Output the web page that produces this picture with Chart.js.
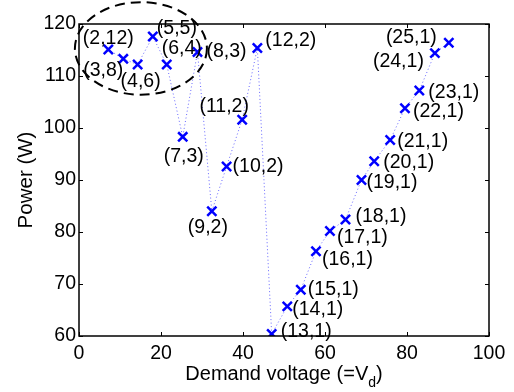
<!DOCTYPE html>
<html>
<head>
<meta charset="utf-8">
<script src="https://cdn.jsdelivr.net/npm/chart.js@4.4.1/dist/chart.umd.min.js"></script>
<style>
  html, body { margin: 0; padding: 0; background: #fff; }
  #c { display: block; }
</style>
</head>
<body>
<canvas id="c" width="514" height="392"></canvas>
<script>
// ---- data ----
const pointLabels = ["(2,12)","(3,8)","(4,6)","(5,5)","(6,4)","(7,3)","(8,3)","(9,2)","(10,2)","(11,2)","(12,2)",
  "(13,1)","(14,1)","(15,1)","(16,1)","(17,1)","(18,1)","(19,1)","(20,1)","(21,1)","(22,1)","(23,1)","(24,1)","(25,1)"];
const demandVoltage = [7.15, 10.8, 14.3, 18.0, 21.4, 25.3, 28.9, 32.4, 36.0, 39.8, 43.5,
  47.0, 50.8, 54.1, 57.8, 61.2, 65.0, 68.9, 72.0, 75.9, 79.5, 83.0, 86.8, 90.2];
const powerW = [115.1, 113.3, 112.2, 117.6, 112.2, 98.3, 114.6, 84.0, 92.6, 101.6, 115.4,
  60.4, 65.7, 68.9, 76.3, 80.2, 82.4, 90.0, 93.6, 97.7, 103.8, 107.2, 114.4, 116.4];
const xTicks = [0, 20, 40, 60, 80, 100];
const yTicks = [60, 70, 80, 90, 100, 110, 120];
// highlighted cluster (data units): centre and half-widths
const clusterCenter = [15.1, 115.3];
const clusterRadius = [16.1, 8.9];

// ---- label placement (pixel offsets from marker, alignment) ----
const labelPlacement = [
  [0,-11,'center'],[0,12,'right'],[3,17,'center'],[4,-8,'left'],[15,-16,'center'],[1,20,'center'],
  [9,0,'left'],[-4,16,'center'],[6,0,'left'],[-18,-13,'center'],[8,-7,'left'],
  [9,-2,'left'],[5,3,'left'],[7,0,'left'],[6,8,'left'],[7,7,'left'],[10,-3,'left'],
  [5,3,'left'],[9,1,'left'],[7,2,'left'],[8,3,'left'],[9,2,'left'],[-11,9,'right'],[-12,-5,'right']
];

const FONT = "'Liberation Sans', Arial, Helvetica, sans-serif";
Chart.defaults.font.family = FONT;
Chart.defaults.color = '#000';

const points = demandVoltage.map((x, i) => ({ x: x, y: powerW[i] }));

const decor = {
  id: 'decor',
  afterDraw(chart) {
    const ctx = chart.ctx;
    const xs = chart.scales.x, ys = chart.scales.y;
    const a = chart.chartArea;
    ctx.save();
    // frame
    ctx.strokeStyle = '#000';
    ctx.lineWidth = 1.5;
    ctx.setLineDash([]);
    ctx.strokeRect(a.left, a.top, a.right - a.left, a.bottom - a.top);
    // inward ticks
    ctx.lineWidth = 1;
    const tl = 4;
    ctx.beginPath();
    xTicks.forEach(v => {
      const px = Math.round(xs.getPixelForValue(v)) + 0.5;
      ctx.moveTo(px, a.bottom); ctx.lineTo(px, a.bottom - tl);
      ctx.moveTo(px, a.top); ctx.lineTo(px, a.top + tl);
    });
    yTicks.forEach(v => {
      const py = Math.round(ys.getPixelForValue(v)) + 0.5;
      ctx.moveTo(a.left, py); ctx.lineTo(a.left + tl, py);
      ctx.moveTo(a.right, py); ctx.lineTo(a.right - tl, py);
    });
    ctx.stroke();

    // point labels
    ctx.fillStyle = '#000';
    ctx.font = '19.5px ' + FONT;
    ctx.textBaseline = 'middle';
    const meta = chart.getDatasetMeta(0);
    meta.data.forEach((el, i) => {
      const p = labelPlacement[i];
      ctx.textAlign = p[2];
      ctx.fillText(pointLabels[i], el.x + p[0], el.y + p[1]);
    });

    // dashed ellipse around cluster
    const cx = xs.getPixelForValue(clusterCenter[0]);
    const cy = ys.getPixelForValue(clusterCenter[1]);
    const rx = Math.abs(xs.getPixelForValue(clusterCenter[0] + clusterRadius[0]) - cx);
    const ry = Math.abs(ys.getPixelForValue(clusterCenter[1] + clusterRadius[1]) - cy);
    ctx.beginPath();
    ctx.setLineDash([10, 6]);
    ctx.lineWidth = 2;
    ctx.strokeStyle = '#000';
    ctx.ellipse(cx, cy, rx, ry, 0, 0, Math.PI * 2);
    ctx.stroke();
    ctx.setLineDash([]);

    // x-axis title with subscript
    const main = 'Demand voltage (=V';
    const sub = 'd';
    const close = ')';
    ctx.textBaseline = 'alphabetic';
    ctx.textAlign = 'left';
    ctx.font = '20px ' + FONT;
    const w1 = ctx.measureText(main).width;
    const w3 = ctx.measureText(close).width;
    ctx.font = '14px ' + FONT;
    const w2 = ctx.measureText(sub).width;
    const total = w1 + w2 + w3;
    let x0 = (a.left + a.right) / 2 - total / 2;
    const base = 380;
    ctx.font = '20px ' + FONT;
    ctx.fillText(main, x0, base);
    ctx.font = '14px ' + FONT;
    ctx.fillText(sub, x0 + w1, base + 7);
    ctx.font = '20px ' + FONT;
    ctx.fillText(close, x0 + w1 + w2, base);
    ctx.restore();
  }
};

new Chart(document.getElementById('c'), {
  type: 'scatter',
  data: {
    datasets: [{
      data: points,
      showLine: true,
      borderColor: 'rgba(0,0,255,0.6)',
      borderWidth: 1,
      borderDash: [1, 2.5],
      pointStyle: 'crossRot',
      pointRadius: 6.5,
      pointBorderWidth: 2.5,
      pointBorderColor: '#0000ff',
      pointBackgroundColor: '#0000ff',
      pointHoverRadius: 6.5
    }]
  },
  options: {
    responsive: false,
    animation: false,
    events: [],
    layout: { padding: { top: 24, right: 25, left: 0, bottom: 0 } },
    plugins: { legend: { display: false }, tooltip: { enabled: false } },
    scales: {
      x: {
        type: 'linear',
        min: 0, max: 100,
        afterFit(s) { s.height = 56; },
        afterBuildTicks(s) { s.ticks = xTicks.map(v => ({ value: v })); },
        ticks: { font: { size: 19.5 }, padding: 6, maxRotation: 0, color: '#000' },
        grid: { display: false, drawTicks: false },
        border: { display: false },
        title: { display: false }
      },
      y: {
        type: 'linear',
        min: 60, max: 120,
        afterFit(s) { s.width = 79; },
        afterBuildTicks(s) { s.ticks = yTicks.map(v => ({ value: v })); },
        ticks: { font: { size: 19.5 }, padding: 3, color: '#000' },
        grid: { display: false, drawTicks: false },
        border: { display: false },
        title: { display: true, text: 'Power (W)', font: { size: 20.5 }, padding: { top: 14, bottom: 0 }, color: '#000' }
      }
    }
  },
  plugins: [decor]
});
</script>
</body>
</html>
